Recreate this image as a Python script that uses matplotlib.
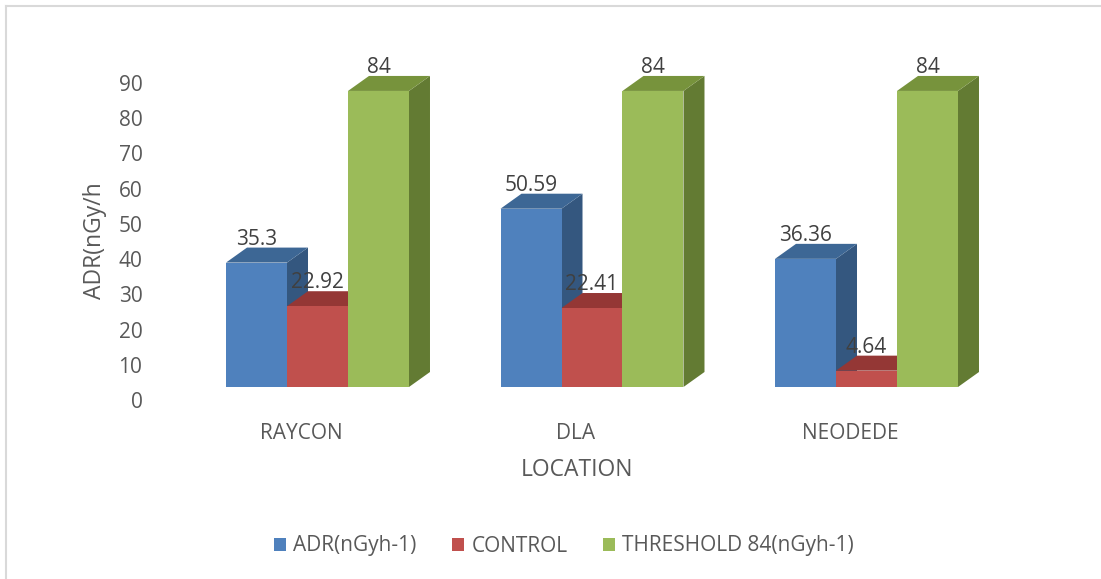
import numpy as np
import matplotlib
matplotlib.use("Agg")
import matplotlib.pyplot as plt
from matplotlib.patches import Polygon, Patch
from matplotlib.lines import Line2D
from matplotlib.transforms import ScaledTranslation

plt.rcParams['font.family'] = ['Open Sans', 'DejaVu Sans']

locations = ['RAYCON', 'DLA', 'NEODEDE']
adr = [35.3, 50.59, 36.36]
control = [22.92, 22.41, 4.64]
threshold = [84, 84, 84]
series_names = ['ADR(nGyh-1)', 'CONTROL', 'THRESHOLD 84(nGyh-1)']

# front / top / side shades for each series
front_cols = ['#4F81BD', '#C0504D', '#9BBB59']
top_cols = ['#3D6795', '#943735', '#77933C']
side_cols = ['#34577F', '#943735', '#637B33']
text_col = '#595959'

W, H = 1101, 579
fig = plt.figure(figsize=(W / 100, H / 100), dpi=100)

# plot area in pixels
left_px, right_px = 180.25, 1003.75
base_px, top_px = 387, 69.8
ax = fig.add_axes([left_px / W, 1 - base_px / H,
                   (right_px - left_px) / W, (base_px - top_px) / H])
ax.set_xlim(-0.5, 2.5)
ax.set_ylim(0, 90)

# depth of the pseudo-3D columns, converted from pixels to data units
dx = 21 / (right_px - left_px) * 3
dy = 15 / (base_px - top_px) * 90

bw = 0.2222
x = np.arange(len(locations))
all_series = [adr, control, threshold]

for i in range(len(locations)):
    for s, vals in enumerate(all_series):
        x0 = x[i] + (s - 1.5) * bw
        x1 = x0 + bw
        v = vals[i]
        side = Polygon([(x1, 0), (x1 + dx, dy), (x1 + dx, v + dy), (x1, v)],
                       closed=True, facecolor=side_cols[s], edgecolor='none', zorder=2)
        top = Polygon([(x0, v), (x1, v), (x1 + dx, v + dy), (x0 + dx, v + dy)],
                      closed=True, facecolor=top_cols[s], edgecolor='none', zorder=2)
        ax.add_patch(side)
        ax.add_patch(top)
        ax.bar(x0, v, width=bw, align='edge', color=front_cols[s], zorder=2)
        ax.text((x0 + x1) / 2, v + dy - 0.6, f'{v:g}', ha='center', va='bottom',
                fontsize=15, color='#404040', zorder=3)

for sp in ax.spines.values():
    sp.set_visible(False)
ax.tick_params(length=0, colors=text_col, labelsize=15)
ax.set_yticks(np.arange(0, 91, 10))
ax.set_xticks(x)
ax.set_xticklabels(locations)

# labels sit on the back wall of the 3D box, so shift them a little
for lab in ax.get_yticklabels():
    lab.set_transform(lab.get_transform() + ScaledTranslation(-0.33, -0.13, fig.dpi_scale_trans))
for lab in ax.get_xticklabels():
    lab.set_transform(lab.get_transform() + ScaledTranslation(-0.16, -0.31, fig.dpi_scale_trans))

fig.text(95 / W, 1 - 241 / H, 'ADR(nGy/h', rotation=90, ha='center', va='center',
         fontsize=16.5, color=text_col)
fig.text(577 / W, 1 - 470 / H, 'LOCATION', ha='center', va='center',
         fontsize=16.5, color=text_col)

handles = [Patch(facecolor=c, edgecolor='none') for c in front_cols]
fig.legend(handles, series_names, loc='center', bbox_to_anchor=(564 / W, 1 - 546 / H),
           ncol=3, frameon=False, fontsize=15, labelcolor=text_col,
           handlelength=0.58, handleheight=0.58, handletextpad=0.35, columnspacing=1.7)

# chart border (top and left edges)
fig.add_artist(Line2D([5.5 / W, 1], [1 - 6 / H, 1 - 6 / H], color='#D9D9D9', lw=1.5))
fig.add_artist(Line2D([5.5 / W, 5.5 / W], [0, 1 - 6 / H], color='#D9D9D9', lw=1.5))

fig.savefig('out.png', dpi=100)
